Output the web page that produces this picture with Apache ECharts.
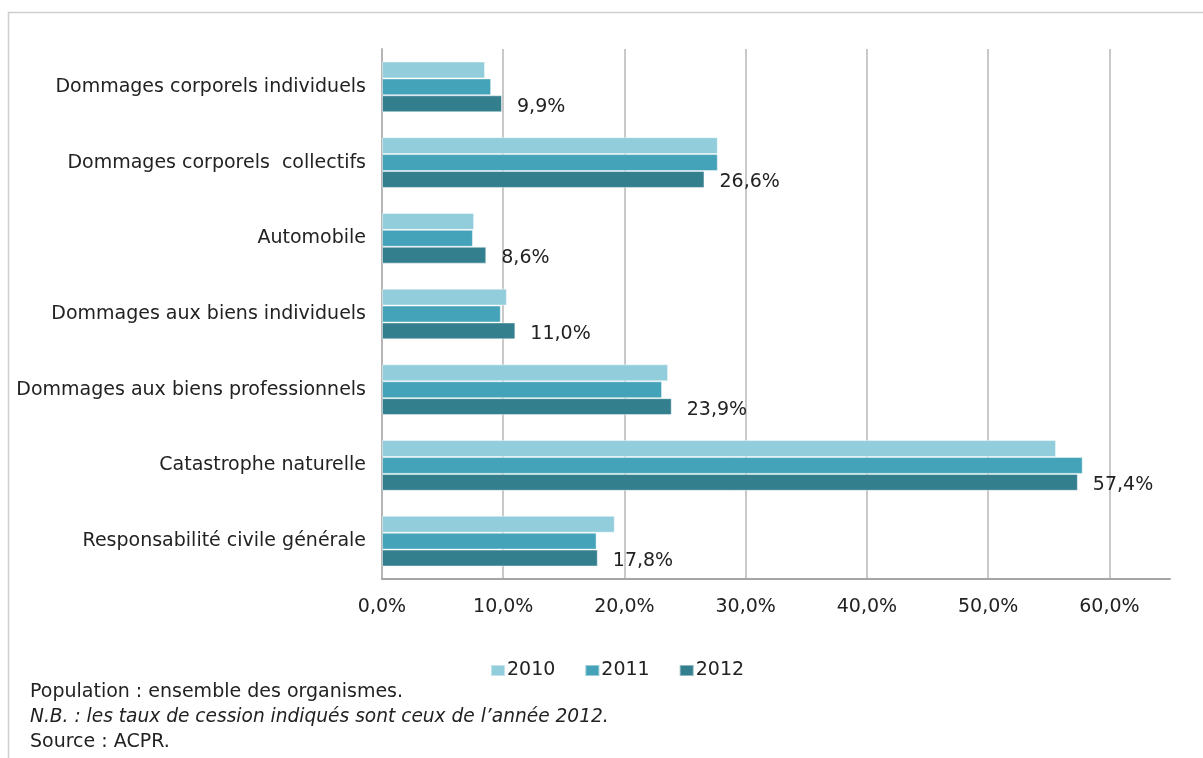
<!DOCTYPE html>
<html>
<head>
<meta charset="utf-8">
<script src="https://cdn.jsdelivr.net/npm/echarts@6/dist/echarts.min.js"></script>
<style>
  html, body { margin: 0; padding: 0; background: #fff; }
  #chart { width: 1203px; height: 758px; }
</style>
</head>
<body>
<div id="chart"></div>
<script>
// Taux de cession par branche (en %)
const categories = [
  'Dommages corporels individuels',
  'Dommages corporels  collectifs',
  'Automobile',
  'Dommages aux biens individuels',
  'Dommages aux biens professionnels',
  'Catastrophe naturelle',
  'Responsabilité civile générale'
];
const years = ['2010', '2011', '2012'];
const values2010 = [8.5, 27.7, 7.6, 10.3, 23.6, 55.6, 19.2];
const values2011 = [9.0, 27.7, 7.5, 9.8, 23.1, 57.8, 17.7];
const values2012 = [9.9, 26.6, 8.6, 11.0, 23.9, 57.4, 17.8];
const xTicks = [0, 10, 20, 30, 40, 50, 60];
const notes = [
  'Population : ensemble des organismes.',
  'N.B. : les taux de cession indiqués sont ceux de l\u2019année 2012.',
  'Source : ACPR.'
];

const colors = ['#92cddc', '#44a3b8', '#347f8e'];
const font = '"DejaVu Sans", Verdana, sans-serif';
const fs = 19;
const pct = v => v.toFixed(1).replace('.', ',') + '%';

const chart = echarts.init(document.getElementById('chart'), null, { renderer: 'canvas' });

function barSeries(name, data, color, withLabel) {
  return {
    name: name,
    type: 'bar',
    data: data,
    barGap: '0%',
    barCategoryGap: '33%',
    itemStyle: { color: color, borderColor: 'rgba(255,255,255,0.45)', borderWidth: 1 },
    label: withLabel ? {
      show: true,
      position: 'right',
      distance: 15,
      offset: [0, 3],
      color: '#222',
      fontFamily: font,
      fontSize: fs,
      formatter: p => pct(p.value)
    } : { show: false },
    emphasis: { disabled: true },
    animation: false
  };
}

const xMax = 65;
const gridColors = xTicks.map(() => '#c9c9c9').concat(['rgba(0,0,0,0)']);

chart.setOption({
  backgroundColor: '#fff',
  animation: false,
  color: colors,
  grid: { left: 382, right: 33, top: 49, bottom: 179, containLabel: false },
  xAxis: {
    type: 'value',
    min: 0,
    max: xMax,
    interval: 10,
    axisLine: { show: true, lineStyle: { color: '#a6a6a6', width: 2 } },
    axisTick: { show: false },
    splitLine: { show: true, lineStyle: { color: gridColors, width: 2 } },
    axisLabel: {
      color: '#222',
      fontFamily: font,
      fontSize: fs,
      margin: 19,
      formatter: v => (xTicks.indexOf(v) >= 0 ? pct(v) : '')
    }
  },
  yAxis: {
    type: 'category',
    data: categories,
    inverse: true,
    axisLine: { show: true, lineStyle: { color: '#b5b5b5', width: 2 } },
    axisTick: { show: false },
    axisLabel: { color: '#222', fontFamily: font, fontSize: fs, margin: 16 }
  },
  legend: {
    data: years,
    left: 485,
    top: 656,
    icon: 'rect',
    itemWidth: 14,
    itemHeight: 11,
    itemGap: 29,
    textStyle: { color: '#222', fontFamily: font, fontSize: fs, padding: [0, 0, 0, -3] }
  },
  series: [
    barSeries(years[0], values2010, colors[0], false),
    barSeries(years[1], values2011, colors[1], false),
    barSeries(years[2], values2012, colors[2], true)
  ],
  graphic: [
    { type: 'line', shape: { x1: 8, y1: 12.5, x2: 1203, y2: 12.5 }, style: { stroke: '#cfcfcf', lineWidth: 1.5 }, silent: true },
    { type: 'line', shape: { x1: 8.5, y1: 12, x2: 8.5, y2: 758 }, style: { stroke: '#cfcfcf', lineWidth: 1.5 }, silent: true },
    { type: 'text', left: 30, top: 683, style: { text: notes[0], fill: '#222', font: fs + 'px ' + font }, silent: true },
    { type: 'text', left: 30, top: 708, style: { text: notes[1], fill: '#222', font: 'italic 18.6px ' + font }, silent: true },
    { type: 'text', left: 30, top: 733, style: { text: notes[2], fill: '#222', font: fs + 'px ' + font }, silent: true }
  ]
});
</script>
</body>
</html>
